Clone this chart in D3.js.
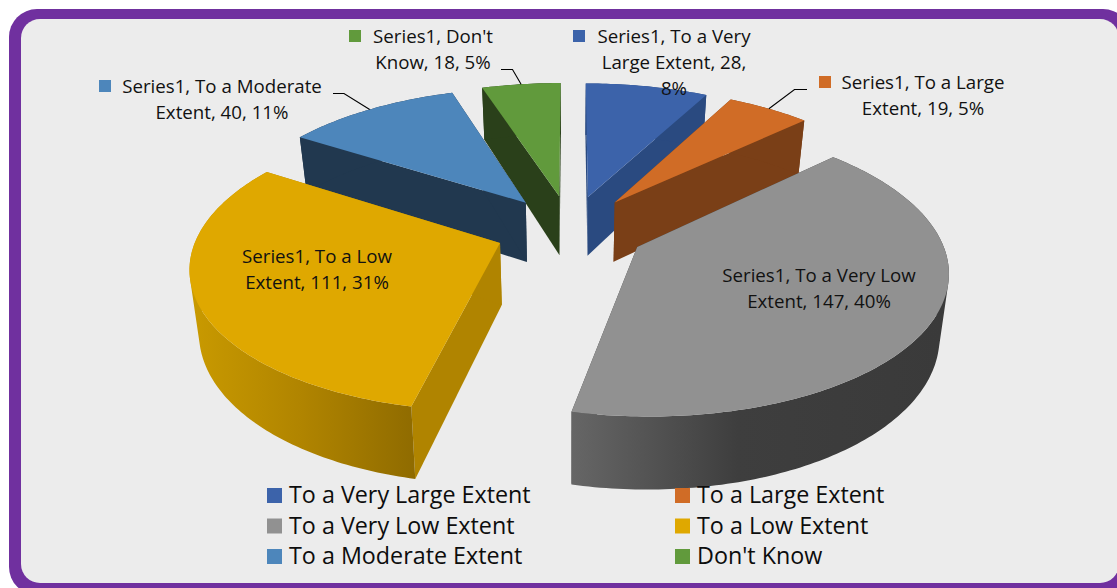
<!DOCTYPE html>
<html>
<head>
<meta charset="utf-8">
<script src="https://cdn.jsdelivr.net/npm/d3@7/dist/d3.min.js"></script>
<style>
  html, body { margin: 0; padding: 0; background: #fff; overflow: hidden; }
  svg { display: block; }
  .lbl { font-family: "Open Sans", sans-serif; font-size: 18.7px; fill: #111; text-anchor: middle; }
  .leg { font-family: "Open Sans", sans-serif; font-size: 23.3px; fill: #0d0d0d; }
</style>
</head>
<body>
<svg id="chart" width="1117" height="588"></svg>
<script>
// Survey responses, in pie order starting at twelve o'clock.
const categories = ["To a Very Large Extent", "To a Large Extent", "To a Very Low Extent",
                    "To a Low Extent", "To a Moderate Extent", "Don't Know"];
const values = [28, 19, 147, 111, 40, 18];
const percents = ["8%", "5%", "40%", "31%", "11%", "5%"];
const seriesName = "Series1";

const topColors = ["#3c63aa", "#d06c26", "#919191", "#dfa800", "#4d86bb", "#619a3c"];
const wallColors = ["#2a4a80", "#7a3f17", "#3e3e3e", "#b08400", "#21384f", "#2a401a"];

// Painter's order for the exploded slices, rear to front.
const paintOrder = [0, 5, 4, 1, 3, 2];

// Wrapped label lines, legend key and text placement for each slice.
const labelLines = [
  [`${seriesName}, To a Very`, "Large Extent, 28,", percents[0]],
  [`${seriesName}, To a Large`, `Extent, 19, ${percents[1]}`],
  [`${seriesName}, To a Very Low`, `Extent, 147, ${percents[2]}`],
  [`${seriesName}, To a Low`, `Extent, 111, ${percents[3]}`],
  [`${seriesName}, To a Moderate`, `Extent, 40, ${percents[4]}`],
  [`${seriesName}, Don't`, `Know, 18, ${percents[5]}`]
];
const labelCenterX = [674, 923, 819, 317, 222, 433];
const labelBaseline = [43, 89, 282, 263, 93, 43];
const labelKeyX = [573, 819, 699, 219, 99, 349];
const labelLineStep = 26;

// Leader elbows: where the horizontal run starts and bends; null means no leader.
const leaderStartX = [null, 807, null, null, 333, 501];
const leaderElbowX = [null, 794.5, null, null, 344, 512.5];
const leaderY = [null, 89.5, null, null, 93.5, 69.5];

const cx = 570.5, cy = 229.5, radius = 301, depthRadius = 139;
const explode = 0.25, perspective = 0.147, wallHeight = 61, floorShrink = 0.975;

const svg = d3.select("#chart");
const defs = svg.append("defs");

// Frame: purple rounded border running past the right and bottom edges.
svg.append("rect").attr("x", 9).attr("y", 9).attr("width", 1122).attr("height", 586)
  .attr("rx", 28).attr("fill", "#70309f");
svg.append("rect").attr("x", 21).attr("y", 19).attr("width", 1098).attr("height", 564)
  .attr("rx", 19).attr("fill", "#ececec");

const xScale = d3.scaleLinear().domain([-1, 1]).range([cx - radius, cx + radius]);
const yScale = d3.scaleLinear().domain([-1, 1]).range([cy + depthRadius, cy - depthRadius]);

const pie = d3.pie().sort(null).value(d => d).startAngle(0).endAngle(2 * Math.PI);
const arcs = pie(values);

// Projects a point on the unit disc, for slice `a`, to the screen.
// `level` is 0 on the top face and 1 on the floor of the pie.
function project(a, angle, r, level) {
  const mid = (a.startAngle + a.endAngle) / 2;
  const X = r * Math.sin(angle) + explode * Math.sin(mid);
  const Y = r * Math.cos(angle) + explode * Math.cos(mid);
  const w = 1 / (1 + perspective * Y);
  const s = level ? floorShrink : 1;
  return [xScale(X * w * s), yScale(Y * w) + level * wallHeight * w];
}

const line = d3.line().curve(d3.curveLinear);

function rim(a, level) {
  const n = Math.max(8, Math.ceil((a.endAngle - a.startAngle) * 60));
  return d3.range(n + 1).map(i => {
    const t = a.startAngle + (a.endAngle - a.startAngle) * i / n;
    return project(a, t, 1, level);
  });
}

// Gradients for the two outer walls that face the viewer.
function wallGradient(id, x1, x2, stops) {
  const g = defs.append("linearGradient").attr("id", id)
    .attr("gradientUnits", "userSpaceOnUse")
    .attr("x1", x1).attr("y1", 0).attr("x2", x2).attr("y2", 0);
  stops.forEach(([o, c]) => g.append("stop").attr("offset", o).attr("stop-color", c));
}
const greyTip = project(arcs[2], arcs[2].endAngle, 1, 1)[0];
const amberTip = project(arcs[3], arcs[3].startAngle, 1, 1)[0];
wallGradient("wall-2", greyTip, greyTip + 370, [[0, "#666666"], [0.45, "#3e3e3e"], [1, "#3a3a3a"]]);
wallGradient("wall-3", amberTip - 225, amberTip, [[0, "#c99a00"], [0.5, "#b08400"], [1, "#8f6b00"]]);

const pieG = svg.append("g");
paintOrder.forEach(i => {
  const a = arcs[i];
  const g = pieG.append("g");
  const apexTop = project(a, a.startAngle, 0, 0);
  const apexFloor = project(a, a.startAngle, 0, 1);
  const topRim = rim(a, 0);
  const floorRim = rim(a, 1);
  const wallFill = (i === 2 || i === 3) ? `url(#wall-${i})` : wallColors[i];

  // Radial cut faces.
  [0, topRim.length - 1].forEach(k => {
    g.append("path")
      .attr("d", line([apexTop, topRim[k], floorRim[k], apexFloor]) + "Z")
      .attr("fill", wallColors[i]);
  });
  // Curved outer wall: one path of same-wound quads, so the fold at the
  // silhouette stays filled and no seams appear between segments.
  const wallPath = d3.pairs(d3.range(topRim.length)).map(([p, q]) => {
    const quad = [topRim[p], topRim[q], floorRim[q], floorRim[p]];
    if (d3.polygonArea(quad) < 0) quad.reverse();
    return line(quad) + "Z";
  }).join("");
  g.append("path").attr("d", wallPath).attr("fill", wallFill);
  // Top face.
  g.append("path")
    .attr("d", line([apexTop].concat(topRim)) + "Z")
    .attr("fill", topColors[i]);
});

// Leaders run from the slice's rim midpoint to the label.
const leaderG = svg.append("g").attr("fill", "none").attr("stroke", "#000").attr("stroke-width", 1.1);
arcs.forEach((a, i) => {
  if (leaderStartX[i] === null) return;
  const end = project(a, (a.startAngle + a.endAngle) / 2, 1, 0);
  leaderG.append("path").attr("d", line([
    [leaderStartX[i], leaderY[i]], [leaderElbowX[i], leaderY[i]], end
  ]));
});

// Data labels with their inline colour keys.
arcs.forEach((a, i) => {
  svg.append("rect")
    .attr("x", labelKeyX[i]).attr("y", labelBaseline[i] - 13).attr("width", 12).attr("height", 12)
    .attr("fill", topColors[i]);
  labelLines[i].forEach((t, k) => {
    svg.append("text").attr("class", "lbl")
      .attr("x", labelCenterX[i]).attr("y", labelBaseline[i] + k * labelLineStep)
      .text(t);
  });
});

// Legend in two columns and three rows.
const legendCol = d3.scalePoint().domain([0, 1]).range([267, 675]);
const legendRow = d3.scalePoint().domain([0, 1, 2]).range([488, 549]);
categories.forEach((c, i) => {
  const x = legendCol(i % 2), y = legendRow(Math.floor(i / 2));
  svg.append("rect").attr("x", x).attr("y", y).attr("width", 15).attr("height", 15).attr("fill", topColors[i]);
  svg.append("text").attr("class", "leg").attr("x", x + 22).attr("y", y + 15).text(c);
});
</script>
</body>
</html>
